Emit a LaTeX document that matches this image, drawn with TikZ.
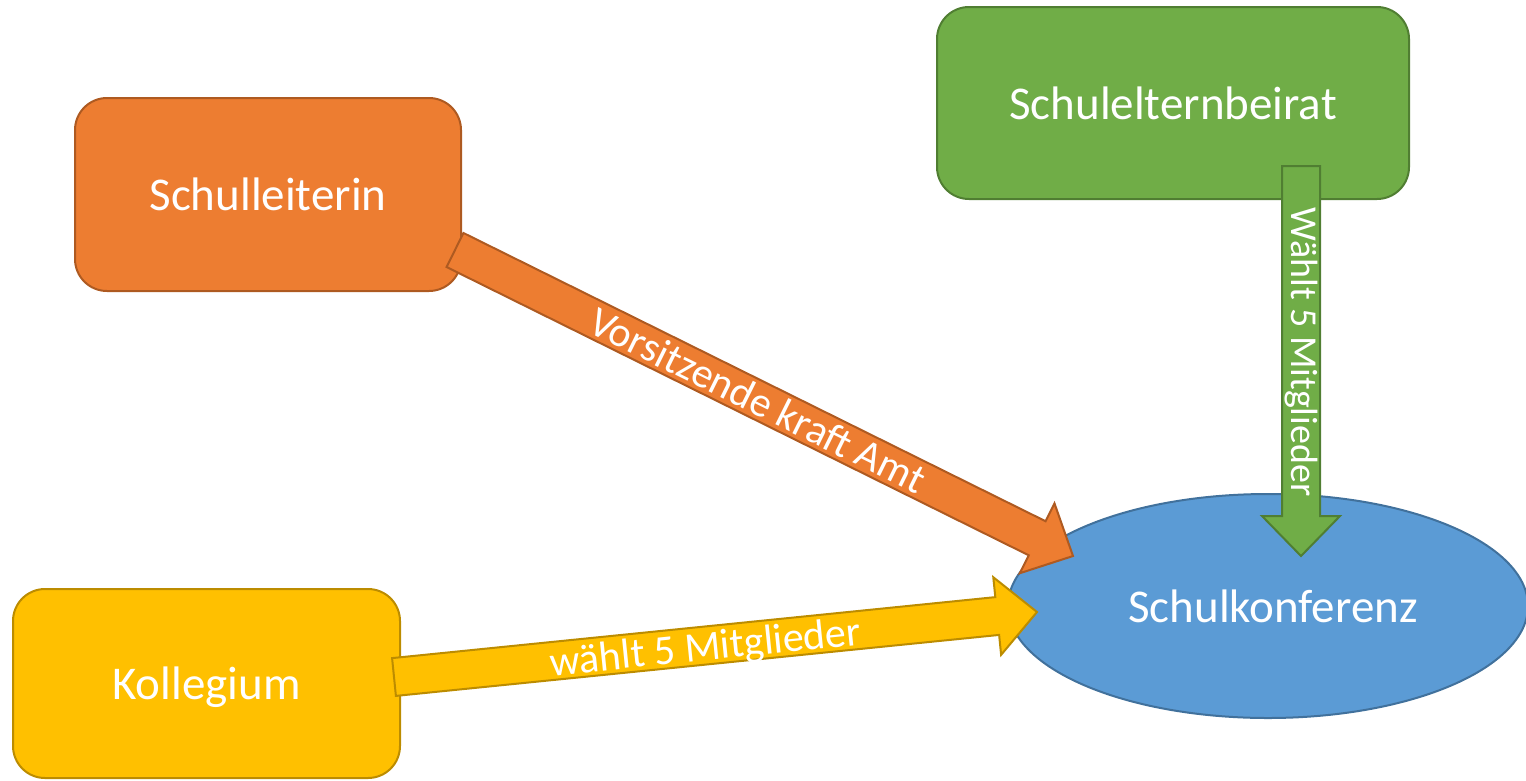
\documentclass[tikz,border=0pt]{standalone}
\usepackage{fontspec}
\setmainfont{Carlito}
\usetikzlibrary{calc,shapes.geometric}
\definecolor{orF}{HTML}{ED7D31}\definecolor{orD}{HTML}{AE5A21}
\definecolor{grF}{HTML}{70AD47}\definecolor{grD}{HTML}{507E32}
\definecolor{yeF}{HTML}{FFC000}\definecolor{yeD}{HTML}{BC8C00}
\definecolor{blF}{HTML}{5B9BD5}\definecolor{blD}{HTML}{41719C}
\tikzset{
  boxnode/.style={draw, line width=2pt, rounded corners=32pt, inner sep=0pt,
    text=white, font=\fontsize{47}{56}\selectfont, text depth=0pt},
  orbox/.style={boxnode, fill=orF, draw=orD},
  grbox/.style={boxnode, fill=grF, draw=grD},
  yebox/.style={boxnode, fill=yeF, draw=yeD},
  blell/.style={ellipse, draw=blD, fill=blF, line width=2pt, inner sep=0pt,
    text=white, font=\fontsize{47}{56}\selectfont},
  arrlabel/.style={text=white, inner sep=0pt, font=\fontsize{42}{50}\selectfont},
  orarr/.style={fill=orF, draw=orD, line width=2pt, line join=miter},
  grarr/.style={fill=grF, draw=grD, line width=2pt, line join=miter},
  yearr/.style={fill=yeF, draw=yeD, line width=2pt, line join=miter},
}
\newcommand\blockarrow[3]{%
  \coordinate (#2-h) at ($(#3)!40pt!(#2)$);
  \draw[#1] ($(#2)!19pt!90:(#3)$) -- ($(#2-h)!19pt!90:(#3)$) -- ($(#2-h)!39pt!90:(#3)$)
    -- (#3) -- ($(#2-h)!39pt!-90:(#3)$) -- ($(#2-h)!19pt!-90:(#3)$)
    -- ($(#2)!19pt!-90:(#3)$) -- cycle;
}
\begin{document}
\begin{tikzpicture}[x=1pt,y=-1pt]
\useasboundingbox (0,0) rectangle (1526,780);
% boxes
\node[orbox, minimum width=386pt, minimum height=193pt] (leit) at (268,194.5) {Schulleiterin};
\node[grbox, minimum width=472pt, minimum height=192pt] (seb) at (1173,103) {Schulelternbeirat};
\node[yebox, minimum width=387pt, minimum height=189pt] (koll) at (206.5,683.5) {Kollegium};
\node[blell, minimum width=520pt, minimum height=224pt] (skon) at (1268,606) {\hspace*{10pt}Schulkonferenz};
% arrow end points
\coordinate (otail) at (455,250);
\coordinate (otip) at (1073,556);
\coordinate (gtail) at (1301,166);
\coordinate (gtip) at (1301,556);
\coordinate (ytail) at (394,677);
\coordinate (ytip) at (1037,612);
% arrows
\blockarrow{orarr}{otail}{otip}
\blockarrow{grarr}{gtail}{gtip}
\blockarrow{yearr}{ytail}{ytip}
% labels
\path (otail) -- (otip) node[arrlabel, pos=0.49, sloped] (olab) {Vorsitzende kraft Amt};
\path (ytail) -- (ytip) node[arrlabel, pos=0.484, sloped, yshift=-4pt] (ylab) {wählt 5 Mitglieder};
\path (gtail) -- (gtip) node[arrlabel, pos=0.477, rotate=-90, font=\fontsize{38}{45}\selectfont] (glab) {Wählt 5 Mitglieder};
\end{tikzpicture}
\end{document}
